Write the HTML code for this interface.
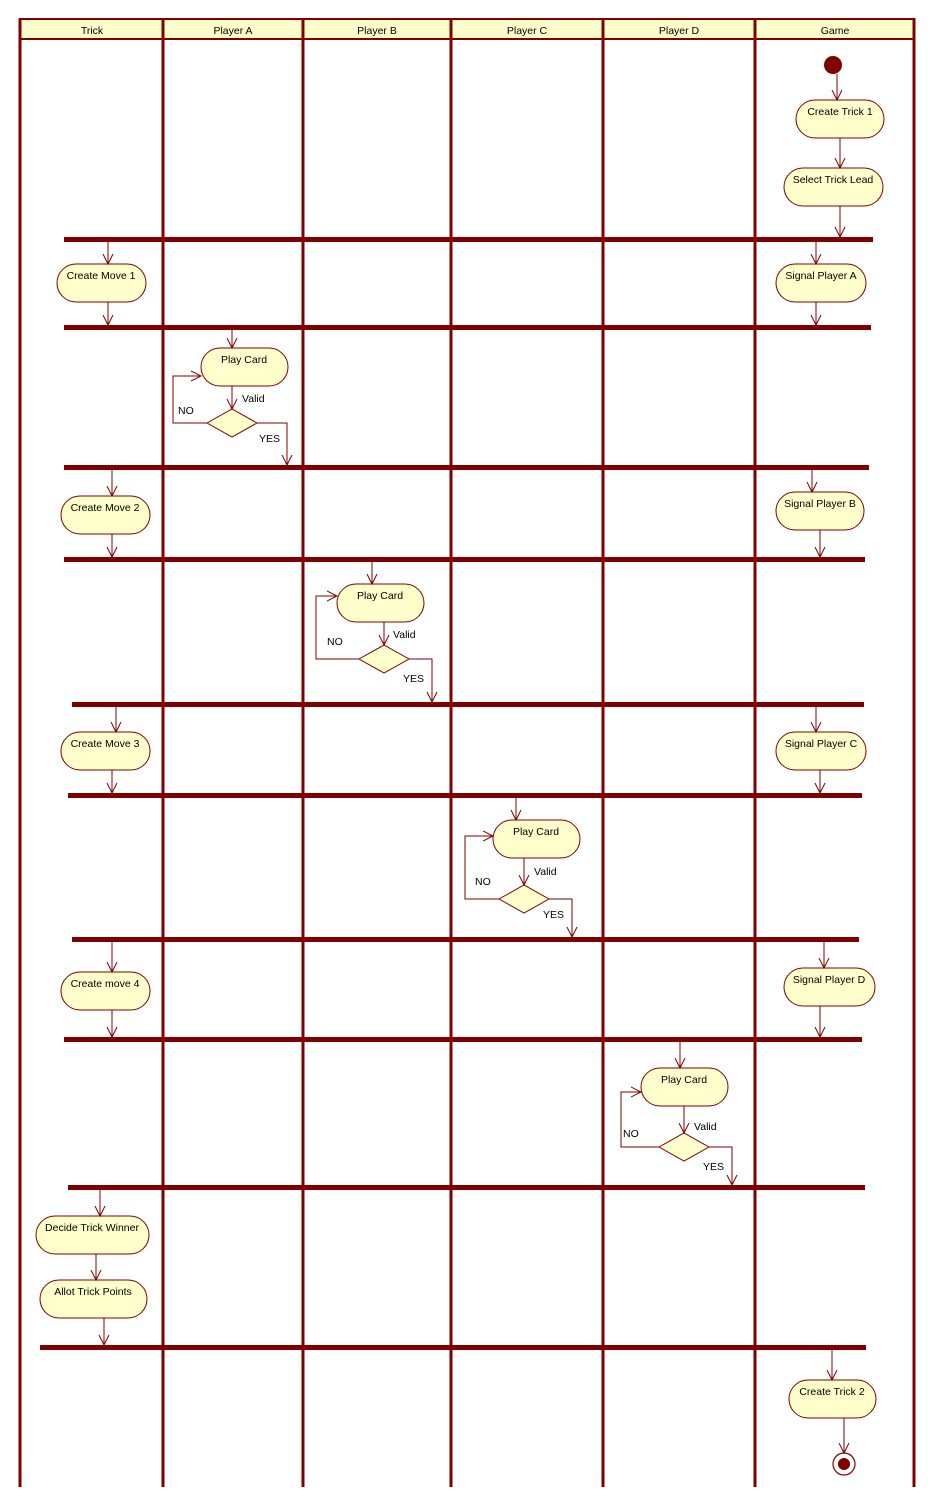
<!DOCTYPE html>
<html><head><meta charset="utf-8"><style>
html,body{margin:0;padding:0;background:#fff;}
svg{display:block;font-family:"Liberation Sans",sans-serif;font-size:10.5px;}
</style></head><body>
<svg width="936" height="1508" viewBox="0 0 936 1508" xmlns="http://www.w3.org/2000/svg">
<defs>
<marker id="a" markerWidth="12" markerHeight="12" refX="10" refY="6" orient="auto" markerUnits="userSpaceOnUse" viewBox="0 0 12 12">
<path d="M0,1 L10,6 L0,11" fill="none" stroke="#800000" stroke-width="1"/>
</marker>
</defs>
<rect x="20" y="19" width="894" height="20" fill="#ffffcc" stroke="#800000" stroke-width="2"/>
<g fill="#000" text-anchor="middle">
<text x="92" y="34">Trick</text><text x="233" y="34">Player A</text><text x="377" y="34">Player B</text>
<text x="527" y="34">Player C</text><text x="679" y="34">Player D</text><text x="835" y="34">Game</text>
</g>
<g stroke="#800000" stroke-width="3">
<line x1="20" y1="18" x2="20" y2="1487"/><line x1="163" y1="18" x2="163" y2="1487"/>
<line x1="303" y1="18" x2="303" y2="1487"/><line x1="451" y1="18" x2="451" y2="1487"/>
<line x1="603" y1="18" x2="603" y2="1487"/><line x1="755" y1="18" x2="755" y2="1487"/>
<line x1="914" y1="18" x2="914" y2="1487"/>
</g>
<g fill="#800000">
<rect x="64" y="237" width="809" height="5"/>
<rect x="64" y="325" width="807" height="5"/>
<rect x="64" y="465" width="805" height="5"/>
<rect x="64" y="557" width="801" height="5"/>
<rect x="72" y="702" width="792" height="5"/>
<rect x="68" y="793" width="794" height="5"/>
<rect x="72" y="937" width="787" height="5"/>
<rect x="64" y="1037" width="798" height="5"/>
<rect x="68" y="1185" width="797" height="5"/>
<rect x="40" y="1345" width="826" height="5"/>
<circle cx="833" cy="65" r="9"/>
<circle cx="844" cy="1464" r="6"/>
</g>
<circle cx="844" cy="1464" r="11" fill="none" stroke="#800000" stroke-width="1.2"/>
<g fill="#ffffcc" stroke="#800000" stroke-width="1">
<rect x="796" y="100" width="88" height="38" rx="19"/>
<rect x="784" y="168" width="99" height="38" rx="19"/>
<rect x="57" y="264" width="89" height="38" rx="19"/>
<rect x="776" y="264" width="90" height="38" rx="19"/>
<rect x="201" y="348" width="87" height="38" rx="19"/>
<rect x="61" y="496" width="89" height="38" rx="19"/>
<rect x="776" y="492" width="88" height="38" rx="19"/>
<rect x="337" y="584" width="87" height="38" rx="19"/>
<rect x="61" y="732" width="89" height="38" rx="19"/>
<rect x="776" y="732" width="90" height="38" rx="19"/>
<rect x="493" y="820" width="87" height="38" rx="19"/>
<rect x="61" y="972" width="89" height="38" rx="19"/>
<rect x="784" y="968" width="91" height="38" rx="19"/>
<rect x="641" y="1068" width="87" height="38" rx="19"/>
<rect x="36" y="1216" width="113" height="38" rx="19"/>
<rect x="40" y="1280" width="107" height="38" rx="19"/>
<rect x="789" y="1380" width="87" height="38" rx="19"/>
<polygon points="207,423 232,409 257,423 232,437"/>
<polygon points="359,659 384,645 409,659 384,673"/>
<polygon points="499,899 524,885 549,899 524,913"/>
<polygon points="659,1147 684,1133 709,1147 684,1161"/>
</g>
<g fill="#000" text-anchor="middle">
<text x="840" y="115">Create Trick 1</text>
<text x="833" y="183">Select Trick Lead</text>
<text x="101" y="279">Create Move 1</text>
<text x="821" y="279">Signal Player A</text>
<text x="244" y="363">Play Card</text>
<text x="105" y="511">Create Move 2</text>
<text x="820" y="507">Signal Player B</text>
<text x="380" y="599">Play Card</text>
<text x="105" y="747">Create Move 3</text>
<text x="821" y="747">Signal Player C</text>
<text x="536" y="835">Play Card</text>
<text x="105" y="987">Create move 4</text>
<text x="829" y="983">Signal Player D</text>
<text x="684" y="1083">Play Card</text>
<text x="92" y="1231">Decide Trick Winner</text>
<text x="93" y="1295">Allot Trick Points</text>
<text x="832" y="1395">Create Trick 2</text>
</g>
<g fill="#000">
<text x="242" y="402">Valid</text><text x="178" y="414">NO</text><text x="259" y="442">YES</text>
<text x="393" y="638">Valid</text><text x="327" y="645">NO</text><text x="403" y="682">YES</text>
<text x="534" y="875">Valid</text><text x="475" y="885">NO</text><text x="543" y="918">YES</text>
<text x="694" y="1130">Valid</text><text x="623" y="1137">NO</text><text x="703" y="1170">YES</text>
</g>
<g stroke="#800000" stroke-width="1" fill="none" marker-end="url(#a)">
<line x1="837" y1="74" x2="837" y2="100"/>
<line x1="840" y1="138" x2="840" y2="168"/>
<line x1="840" y1="206" x2="840" y2="237"/>
<line x1="108" y1="242" x2="108" y2="264"/>
<line x1="816" y1="242" x2="816" y2="264"/>
<line x1="108" y1="302" x2="108" y2="325"/>
<line x1="816" y1="302" x2="816" y2="325"/>
<line x1="232" y1="330" x2="232" y2="348"/>
<line x1="232" y1="386" x2="232" y2="409"/>
<polyline points="257,423 287,423 287,465"/>
<line x1="112" y1="470" x2="112" y2="496"/>
<line x1="812" y1="470" x2="812" y2="492"/>
<line x1="112" y1="534" x2="112" y2="557"/>
<line x1="820" y1="530" x2="820" y2="557"/>
<line x1="372" y1="562" x2="372" y2="584"/>
<line x1="384" y1="622" x2="384" y2="645"/>
<polyline points="409,659 432,659 432,702"/>
<line x1="116" y1="707" x2="116" y2="732"/>
<line x1="816" y1="707" x2="816" y2="732"/>
<line x1="112" y1="770" x2="112" y2="793"/>
<line x1="820" y1="770" x2="820" y2="793"/>
<line x1="516" y1="798" x2="516" y2="820"/>
<line x1="524" y1="858" x2="524" y2="885"/>
<polyline points="549,899 572,899 572,937"/>
<line x1="112" y1="942" x2="112" y2="972"/>
<line x1="824" y1="942" x2="824" y2="968"/>
<line x1="112" y1="1010" x2="112" y2="1037"/>
<line x1="820" y1="1006" x2="820" y2="1037"/>
<line x1="680" y1="1042" x2="680" y2="1068"/>
<line x1="684" y1="1106" x2="684" y2="1133"/>
<polyline points="709,1147 732,1147 732,1185"/>
<line x1="100" y1="1190" x2="100" y2="1216"/>
<line x1="96" y1="1254" x2="96" y2="1280"/>
<line x1="104" y1="1318" x2="104" y2="1345"/>
<line x1="832" y1="1350" x2="832" y2="1380"/>
<line x1="844" y1="1418" x2="844" y2="1453"/>
<polyline points="207,423 173,423 173,376 201,376"/>
<polyline points="359,659 316,659 316,596 337,596"/>
<polyline points="499,899 465,899 465,836 493,836"/>
<polyline points="659,1147 621,1147 621,1092 641,1092"/>
</g>
</svg>
</body></html>
